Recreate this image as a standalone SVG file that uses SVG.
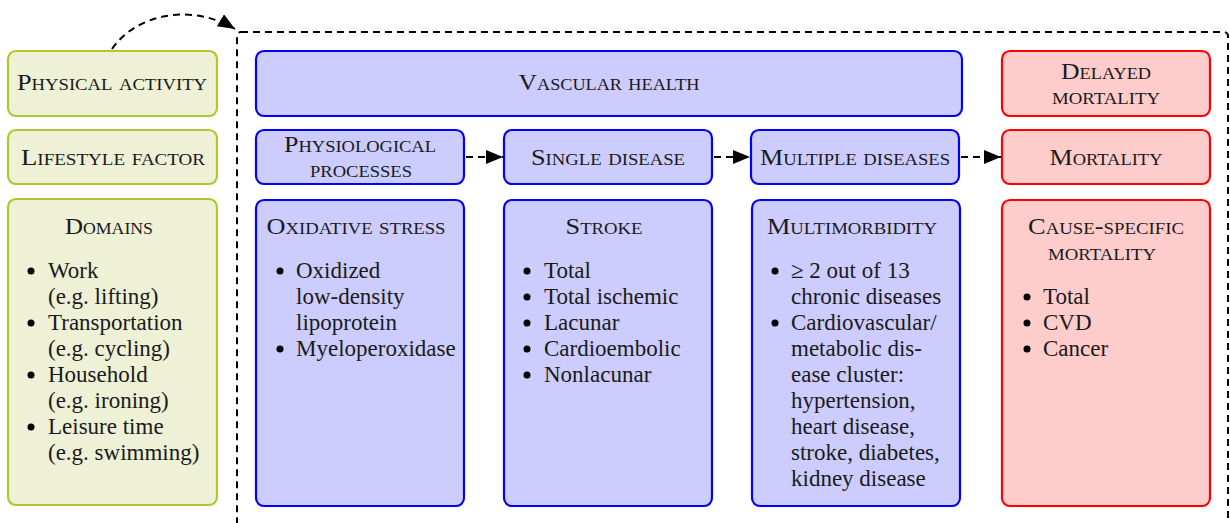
<svg xmlns="http://www.w3.org/2000/svg" width="1230" height="523" viewBox="0 0 1230 523">
<style>
.g{fill:#EEF1D5;stroke:#B5C42B;stroke-width:2.2}
.b{fill:#CCCCFF;stroke:#0000FF;stroke-width:2.2}
.r{fill:#FFCCCC;stroke:#FF0000;stroke-width:2.2}
.dash{fill:none;stroke:#000;stroke-width:2;stroke-dasharray:7 5}
</style>
<defs>
<marker id="ah" markerUnits="userSpaceOnUse" markerWidth="20" markerHeight="16" refX="17" refY="7" orient="auto">
<path d="M0,0 L17,7 L0,14 Z" fill="#000"/>
</marker>
</defs>
<rect class="dash" x="237" y="32" width="991" height="520" rx="4"/>
<g id="connectors">
<path class="dash" d="M112,49 C135,15 190,2 235,29" marker-end="url(#ah)"/>
<line class="dash" x1="466" y1="157" x2="503" y2="157" marker-end="url(#ah)"/>
<line class="dash" x1="714" y1="157" x2="750" y2="157" marker-end="url(#ah)"/>
<line class="dash" x1="961" y1="157" x2="1001" y2="157" marker-end="url(#ah)"/>
</g>
<g id="physical-activity"><rect class="g" x="8" y="51" width="209" height="65" rx="8"/><text font-family="Liberation Serif" style="font-family:'Liberation Serif',serif !important;font-size:22.5px;font-variant:small-caps;fill:#1a1a1a" text-anchor="middle" x="112" y="90" textLength="190" lengthAdjust="spacingAndGlyphs">Physical activity</text></g>
<g id="lifestyle-factor"><rect class="g" x="8" y="130" width="209" height="54" rx="8"/><text font-family="Liberation Serif" style="font-family:'Liberation Serif',serif !important;font-size:22.5px;font-variant:small-caps;fill:#1a1a1a" text-anchor="middle" x="113" y="165" textLength="184" lengthAdjust="spacingAndGlyphs">Lifestyle factor</text></g>
<g id="domains"><rect class="g" x="8" y="199" width="209" height="306" rx="8"/>
<text font-family="Liberation Serif" style="font-family:'Liberation Serif',serif !important;font-size:22.5px;font-variant:small-caps;fill:#1a1a1a" text-anchor="middle" x="109" y="234" textLength="88" lengthAdjust="spacingAndGlyphs">Domains</text>
<circle cx="31" cy="271" r="3.5"/><text font-family="Liberation Serif" style="font-family:'Liberation Serif',serif !important;font-size:23px;fill:#1a1a1a" x="48" y="278">Work</text>
<text font-family="Liberation Serif" style="font-family:'Liberation Serif',serif !important;font-size:23px;fill:#1a1a1a" x="48" y="304">(e.g.  lifting)</text>
<circle cx="31" cy="323" r="3.5"/><text font-family="Liberation Serif" style="font-family:'Liberation Serif',serif !important;font-size:23px;fill:#1a1a1a" x="48" y="330">Transportation</text>
<text font-family="Liberation Serif" style="font-family:'Liberation Serif',serif !important;font-size:23px;fill:#1a1a1a" x="48" y="356">(e.g.  cycling)</text>
<circle cx="31" cy="375" r="3.5"/><text font-family="Liberation Serif" style="font-family:'Liberation Serif',serif !important;font-size:23px;fill:#1a1a1a" x="48" y="382">Household</text>
<text font-family="Liberation Serif" style="font-family:'Liberation Serif',serif !important;font-size:23px;fill:#1a1a1a" x="48" y="408">(e.g.  ironing)</text>
<circle cx="31" cy="427" r="3.5"/><text font-family="Liberation Serif" style="font-family:'Liberation Serif',serif !important;font-size:23px;fill:#1a1a1a" x="48" y="434">Leisure time</text>
<text font-family="Liberation Serif" style="font-family:'Liberation Serif',serif !important;font-size:23px;fill:#1a1a1a" x="48" y="460">(e.g.  swimming)</text>
</g>
<g id="vascular-health"><rect class="b" x="256" y="51" width="706" height="65" rx="8"/><text font-family="Liberation Serif" style="font-family:'Liberation Serif',serif !important;font-size:22.5px;font-variant:small-caps;fill:#1a1a1a" text-anchor="middle" x="609" y="90" textLength="181" lengthAdjust="spacingAndGlyphs">Vascular health</text></g>
<g id="physiological-processes"><rect class="b" x="256" y="130" width="208" height="54" rx="8"/><text font-family="Liberation Serif" style="font-family:'Liberation Serif',serif !important;font-size:22.5px;font-variant:small-caps;fill:#1a1a1a" text-anchor="middle" x="360" y="152" textLength="152" lengthAdjust="spacingAndGlyphs">Physiological</text><text font-family="Liberation Serif" style="font-family:'Liberation Serif',serif !important;font-size:22.5px;font-variant:small-caps;fill:#1a1a1a" text-anchor="middle" x="361" y="177" textLength="102" lengthAdjust="spacingAndGlyphs">processes</text></g>
<g id="single-disease"><rect class="b" x="504" y="130" width="208" height="54" rx="8"/><text font-family="Liberation Serif" style="font-family:'Liberation Serif',serif !important;font-size:22.5px;font-variant:small-caps;fill:#1a1a1a" text-anchor="middle" x="608" y="165" textLength="154" lengthAdjust="spacingAndGlyphs">Single disease</text></g>
<g id="multiple-diseases"><rect class="b" x="751" y="130" width="208" height="54" rx="8"/><text font-family="Liberation Serif" style="font-family:'Liberation Serif',serif !important;font-size:22.5px;font-variant:small-caps;fill:#1a1a1a" text-anchor="middle" x="855" y="165" textLength="190" lengthAdjust="spacingAndGlyphs">Multiple diseases</text></g>
<g id="delayed-mortality"><rect class="r" x="1002" y="51" width="208" height="65" rx="8"/><text font-family="Liberation Serif" style="font-family:'Liberation Serif',serif !important;font-size:22.5px;font-variant:small-caps;fill:#1a1a1a" text-anchor="middle" x="1106" y="79" textLength="90" lengthAdjust="spacingAndGlyphs">Delayed</text><text font-family="Liberation Serif" style="font-family:'Liberation Serif',serif !important;font-size:22.5px;font-variant:small-caps;fill:#1a1a1a" text-anchor="middle" x="1106" y="104" textLength="108" lengthAdjust="spacingAndGlyphs">mortality</text></g>
<g id="mortality"><rect class="r" x="1002" y="130" width="208" height="54" rx="8"/><text font-family="Liberation Serif" style="font-family:'Liberation Serif',serif !important;font-size:22.5px;font-variant:small-caps;fill:#1a1a1a" text-anchor="middle" x="1106" y="165" textLength="113" lengthAdjust="spacingAndGlyphs">Mortality</text></g>
<g id="oxidative-stress"><rect class="b" x="256" y="200" width="208" height="306" rx="8"/>
<text font-family="Liberation Serif" style="font-family:'Liberation Serif',serif !important;font-size:22.5px;font-variant:small-caps;fill:#1a1a1a" text-anchor="middle" x="356" y="234" textLength="179" lengthAdjust="spacingAndGlyphs">Oxidative stress</text>
<circle cx="280" cy="271" r="3.5"/><text font-family="Liberation Serif" style="font-family:'Liberation Serif',serif !important;font-size:23px;fill:#1a1a1a" x="296" y="278">Oxidized</text>
<text font-family="Liberation Serif" style="font-family:'Liberation Serif',serif !important;font-size:23px;fill:#1a1a1a" x="296" y="304">low-density</text>
<text font-family="Liberation Serif" style="font-family:'Liberation Serif',serif !important;font-size:23px;fill:#1a1a1a" x="296" y="330">lipoprotein</text>
<circle cx="280" cy="349" r="3.5"/><text font-family="Liberation Serif" style="font-family:'Liberation Serif',serif !important;font-size:23px;fill:#1a1a1a" x="296" y="356">Myeloperoxidase</text>
</g>
<g id="stroke"><rect class="b" x="504" y="200" width="208" height="306" rx="8"/>
<text font-family="Liberation Serif" style="font-family:'Liberation Serif',serif !important;font-size:22.5px;font-variant:small-caps;fill:#1a1a1a" text-anchor="middle" x="604" y="234" textLength="77" lengthAdjust="spacingAndGlyphs">Stroke</text>
<circle cx="527" cy="271" r="3.5"/><text font-family="Liberation Serif" style="font-family:'Liberation Serif',serif !important;font-size:23px;fill:#1a1a1a" x="544" y="278">Total</text>
<circle cx="527" cy="297" r="3.5"/><text font-family="Liberation Serif" style="font-family:'Liberation Serif',serif !important;font-size:23px;fill:#1a1a1a" x="544" y="304">Total ischemic</text>
<circle cx="527" cy="323" r="3.5"/><text font-family="Liberation Serif" style="font-family:'Liberation Serif',serif !important;font-size:23px;fill:#1a1a1a" x="544" y="330">Lacunar</text>
<circle cx="527" cy="349" r="3.5"/><text font-family="Liberation Serif" style="font-family:'Liberation Serif',serif !important;font-size:23px;fill:#1a1a1a" x="544" y="356">Cardioembolic</text>
<circle cx="527" cy="375" r="3.5"/><text font-family="Liberation Serif" style="font-family:'Liberation Serif',serif !important;font-size:23px;fill:#1a1a1a" x="544" y="382">Nonlacunar</text>
</g>
<g id="multimorbidity"><rect class="b" x="752" y="200" width="208" height="306" rx="8"/>
<text font-family="Liberation Serif" style="font-family:'Liberation Serif',serif !important;font-size:22.5px;font-variant:small-caps;fill:#1a1a1a" text-anchor="middle" x="852" y="234" textLength="170" lengthAdjust="spacingAndGlyphs">Multimorbidity</text>
<circle cx="775" cy="271" r="3.5"/><text font-family="Liberation Serif" style="font-family:'Liberation Serif',serif !important;font-size:23px;fill:#1a1a1a" x="791" y="278">≥ 2 out of 13</text>
<text font-family="Liberation Serif" style="font-family:'Liberation Serif',serif !important;font-size:23px;fill:#1a1a1a" x="791" y="304">chronic diseases</text>
<circle cx="775" cy="323" r="3.5"/><text font-family="Liberation Serif" style="font-family:'Liberation Serif',serif !important;font-size:23px;fill:#1a1a1a" x="791" y="330">Cardiovascular/</text>
<text font-family="Liberation Serif" style="font-family:'Liberation Serif',serif !important;font-size:23px;fill:#1a1a1a" x="791" y="356">metabolic dis-</text>
<text font-family="Liberation Serif" style="font-family:'Liberation Serif',serif !important;font-size:23px;fill:#1a1a1a" x="791" y="382">ease cluster:</text>
<text font-family="Liberation Serif" style="font-family:'Liberation Serif',serif !important;font-size:23px;fill:#1a1a1a" x="791" y="408">hypertension,</text>
<text font-family="Liberation Serif" style="font-family:'Liberation Serif',serif !important;font-size:23px;fill:#1a1a1a" x="791" y="434">heart disease,</text>
<text font-family="Liberation Serif" style="font-family:'Liberation Serif',serif !important;font-size:23px;fill:#1a1a1a" x="791" y="460">stroke, diabetes,</text>
<text font-family="Liberation Serif" style="font-family:'Liberation Serif',serif !important;font-size:23px;fill:#1a1a1a" x="791" y="486">kidney disease</text>
</g>
<g id="cause-specific-mortality"><rect class="r" x="1002" y="200" width="208" height="306" rx="8"/>
<text font-family="Liberation Serif" style="font-family:'Liberation Serif',serif !important;font-size:22.5px;font-variant:small-caps;fill:#1a1a1a" text-anchor="middle" x="1106" y="234" textLength="156" lengthAdjust="spacingAndGlyphs">Cause-specific</text>
<text font-family="Liberation Serif" style="font-family:'Liberation Serif',serif !important;font-size:22.5px;font-variant:small-caps;fill:#1a1a1a" text-anchor="middle" x="1102" y="260" textLength="108" lengthAdjust="spacingAndGlyphs">mortality</text>
<circle cx="1027" cy="297" r="3.5"/><text font-family="Liberation Serif" style="font-family:'Liberation Serif',serif !important;font-size:23px;fill:#1a1a1a" x="1043" y="304">Total</text>
<circle cx="1027" cy="323" r="3.5"/><text font-family="Liberation Serif" style="font-family:'Liberation Serif',serif !important;font-size:23px;fill:#1a1a1a" x="1043" y="330">CVD</text>
<circle cx="1027" cy="349" r="3.5"/><text font-family="Liberation Serif" style="font-family:'Liberation Serif',serif !important;font-size:23px;fill:#1a1a1a" x="1043" y="356">Cancer</text>
</g>
</svg>
